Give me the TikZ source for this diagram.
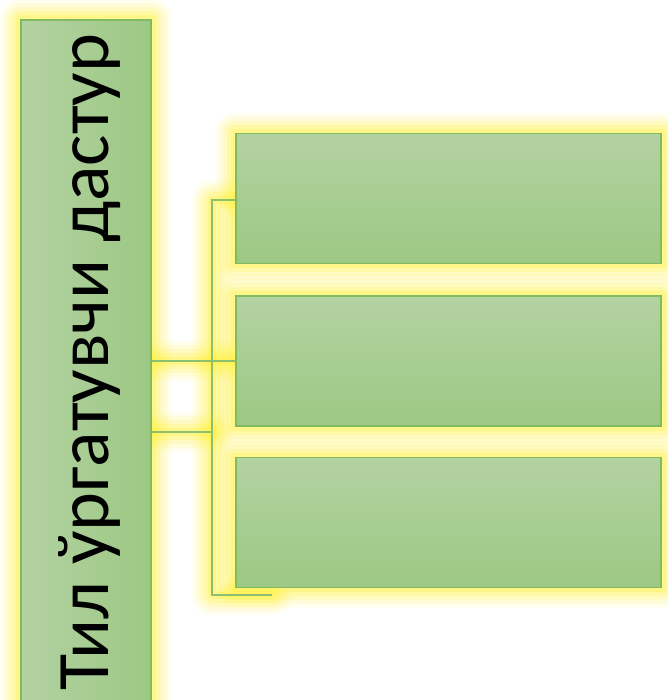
\documentclass[tikz,border=0pt]{standalone}
\usepackage{fontspec}
\setmainfont{Carlito}

\pgfdeclarelayer{glow}
\pgfsetlayers{glow,main}

\definecolor{glowyellow}{HTML}{FFEE22}
\definecolor{boxlight}{HTML}{B3D2A2}
\definecolor{boxdark}{HTML}{9DC884}
\definecolor{boxedge}{HTML}{80BB62}
\definecolor{linkgreen}{HTML}{8CC070}

\tikzset{
  mainbox/.style={draw=boxedge, line width=1.6pt, left color=boxlight,
    right color=boxdark, minimum width=130pt, minimum height=682pt,
    inner sep=0pt},
  itembox/.style={draw=boxedge, line width=1.6pt, top color=boxlight,
    bottom color=boxdark, minimum width=425pt, minimum height=130pt,
    inner sep=0pt},
  title/.style={rotate=90, anchor=base, inner sep=0pt,
    font=\fontsize{74}{80}\selectfont},
  link/.style={draw=linkgreen, line width=1.4pt},
}

\begin{document}
\begin{tikzpicture}[x=1pt, y=-1pt]
\useasboundingbox (0,0) rectangle (667,700);

% left column with the title, three boxes on the right
\node[mainbox] (main) at (86,361) {};
\node[title] (lbl) at (108,362) {Тил ўргатувчи дастур};
\node[itembox] (b1) at (448.5,198.5) {};
\node[itembox] (b2) at (448.5,361) {};
\node[itembox] (b3) at (448.5,522.5) {};

% bracket corners
\coordinate (bk top) at (212,200);
\coordinate (bk mid) at (212,432);
\coordinate (bk bot) at (212,595);
\coordinate (bk end) at (272,595);

% connectors
\draw[link] (bk top -| b1.west) -- (bk top) -- (bk bot) -- (bk end);
\draw[link] (main.east) -- (b2.west);
\draw[link] (main.east |- bk mid) -- (bk mid);

% soft yellow glow behind everything
\begin{pgfonlayer}{glow}
  \foreach \w/\o in {40/.07, 32/.1, 24/.13, 16/.17, 8/.22} {
    \foreach \n in {main,b1,b2,b3}
      \draw[glowyellow, line width=\w pt, opacity=\o, line join=round]
        (\n.north west) rectangle (\n.south east);
    \draw[glowyellow, line width=\w pt, opacity=\o, line join=round, line cap=round]
      (bk top -| b1.west) -- (bk top) -- (bk bot) -- (bk end);
    \draw[glowyellow, line width=\w pt, opacity=\o, line cap=round]
      (main.east) -- (b2.west);
    \draw[glowyellow, line width=\w pt, opacity=\o, line cap=round]
      (main.east |- bk mid) -- (bk mid);
  }
\end{pgfonlayer}

\end{tikzpicture}
\end{document}
